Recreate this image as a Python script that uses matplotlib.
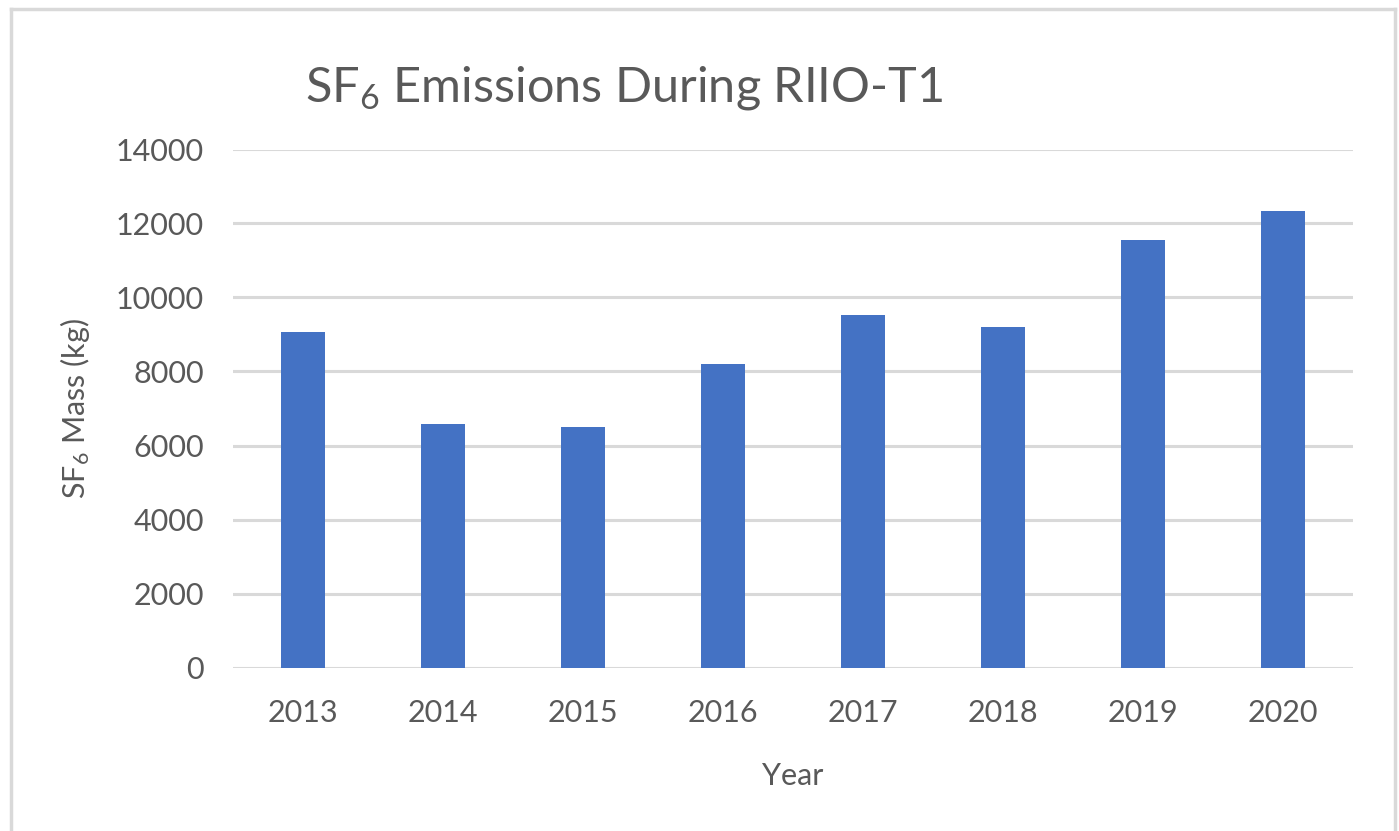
import matplotlib
matplotlib.use("Agg")
import matplotlib.pyplot as plt
from matplotlib.lines import Line2D
import numpy as np

years = ["2013", "2014", "2015", "2016", "2017", "2018", "2019", "2020"]
sf6_mass = [9070, 6580, 6500, 8200, 9530, 9200, 11550, 12340]
y_ticks = [0, 2000, 4000, 6000, 8000, 10000, 12000, 14000]

TEXT = "#595959"
GRID = "#d9d9d9"
BAR = "#4472c4"

plt.rcParams["font.family"] = ["Lato", "DejaVu Sans"]
plt.rcParams["mathtext.fontset"] = "custom"
plt.rcParams["mathtext.rm"] = "Lato"
plt.rcParams["mathtext.it"] = "Lato"

W, H = 1399, 831
fig = plt.figure(figsize=(W / 100, H / 100), dpi=100)
ax = fig.add_axes([233.3 / W, 1 - 667.5 / H, (1352.7 - 233.3) / W, (667.5 - 149.5) / H])

x = np.arange(len(years))
ax.bar(x, sf6_mass, width=0.315, color=BAR, zorder=3)

ax.set_xlim(-0.5, len(years) - 0.5)
ax.set_ylim(0, 14000)
ax.set_yticks(y_ticks)
ax.set_yticklabels([str(v) for v in y_ticks])
ax.set_xticks(x)
ax.set_xticklabels(years)
ax.yaxis.grid(True, color=GRID, linewidth=2.2, zorder=0)
ax.set_axisbelow(True)
for s in ax.spines.values():
    s.set_visible(False)
ax.tick_params(axis="both", length=0, labelsize=22, colors=TEXT)
ax.tick_params(axis="y", pad=21)
ax.tick_params(axis="x", pad=23)

ax.set_xlabel("Year", fontsize=22, color=TEXT, labelpad=25)
ax.set_ylabel("SF$_6$ Mass (kg)", fontsize=22, color=TEXT, labelpad=17)

fig.text(624 / W, 1 - 88 / H, "SF$_6$ Emissions During RIIO-T1",
         ha="center", va="center", fontsize=35, color=TEXT)

# outer chart border (bottom edge falls outside the image)
fx0, fx1, fy0 = 11 / W, 1394.5 / W, 1 - 9 / H
for xs, ys in [([fx0, fx0], [0, fy0]), ([fx0, fx1], [fy0, fy0]), ([fx1, fx1], [0, fy0])]:
    fig.add_artist(Line2D(xs, ys, color=GRID, linewidth=2.5, transform=fig.transFigure))

fig.savefig("out.png", dpi=100, facecolor="white")
